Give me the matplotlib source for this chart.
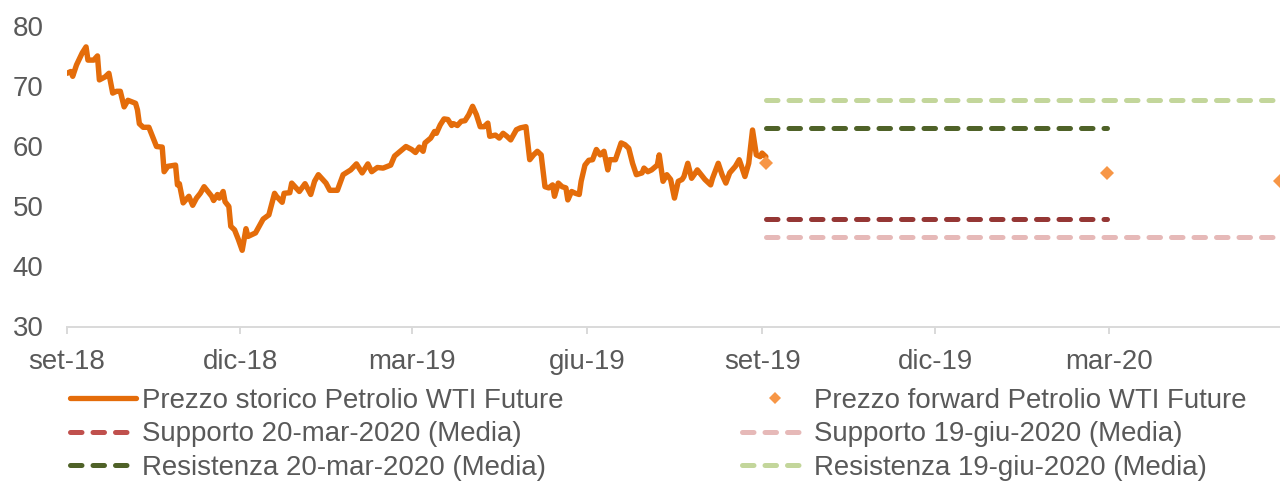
import matplotlib
matplotlib.use("Agg")
import matplotlib.pyplot as plt
from matplotlib.lines import Line2D
import pandas as pd

plt.rcParams['font.family'] = ['Liberation Sans', 'DejaVu Sans']

# ---------------- data ----------------
hist_dates = [
    "2018-09-21", "2018-09-23", "2018-09-24", "2018-09-26", "2018-09-29", "2018-10-01",
    "2018-10-02", "2018-10-05", "2018-10-07", "2018-10-08", "2018-10-11", "2018-10-13",
    "2018-10-15", "2018-10-17", "2018-10-19", "2018-10-21", "2018-10-23", "2018-10-27",
    "2018-10-28", "2018-10-29", "2018-10-31", "2018-11-03", "2018-11-06", "2018-11-07",
    "2018-11-10", "2018-11-11", "2018-11-13", "2018-11-17", "2018-11-18", "2018-11-19",
    "2018-11-21", "2018-11-24", "2018-11-26", "2018-11-28", "2018-11-30", "2018-12-02",
    "2018-12-04", "2018-12-06", "2018-12-07", "2018-12-09", "2018-12-10", "2018-12-12",
    "2018-12-13", "2018-12-15", "2018-12-16", "2018-12-18", "2018-12-20", "2018-12-22",
    "2018-12-24", "2018-12-25", "2018-12-29", "2019-01-02", "2019-01-05", "2019-01-08",
    "2019-01-09", "2019-01-12", "2019-01-13", "2019-01-16", "2019-01-17", "2019-01-21",
    "2019-01-24", "2019-01-27", "2019-01-29", "2019-01-31", "2019-02-04", "2019-02-06",
    "2019-02-10", "2019-02-13", "2019-02-17", "2019-02-20", "2019-02-23", "2019-02-26",
    "2019-02-28", "2019-03-03", "2019-03-06", "2019-03-10", "2019-03-12", "2019-03-15",
    "2019-03-18", "2019-03-21", "2019-03-23", "2019-03-25", "2019-03-27", "2019-03-28",
    "2019-03-31", "2019-04-02", "2019-04-03", "2019-04-05", "2019-04-07", "2019-04-09",
    "2019-04-11", "2019-04-12", "2019-04-14", "2019-04-16", "2019-04-18", "2019-04-20",
    "2019-04-22", "2019-04-24", "2019-04-26", "2019-04-28", "2019-04-30", "2019-05-01",
    "2019-05-04", "2019-05-06", "2019-05-08", "2019-05-10", "2019-05-12", "2019-05-15",
    "2019-05-17", "2019-05-20", "2019-05-22", "2019-05-24", "2019-05-26", "2019-05-28",
    "2019-05-30", "2019-06-01", "2019-06-03", "2019-06-04", "2019-06-06", "2019-06-08",
    "2019-06-10", "2019-06-11", "2019-06-13", "2019-06-15", "2019-06-17", "2019-06-18",
    "2019-06-20", "2019-06-22", "2019-06-24", "2019-06-26", "2019-06-28", "2019-06-30",
    "2019-07-02", "2019-07-03", "2019-07-06", "2019-07-09", "2019-07-11", "2019-07-13",
    "2019-07-15", "2019-07-17", "2019-07-20", "2019-07-21", "2019-07-23", "2019-07-25",
    "2019-07-28", "2019-07-29", "2019-07-31", "2019-08-02", "2019-08-04", "2019-08-06",
    "2019-08-08", "2019-08-10", "2019-08-11", "2019-08-13", "2019-08-15", "2019-08-17",
    "2019-08-18", "2019-08-20", "2019-08-22", "2019-08-25", "2019-08-26", "2019-08-29",
    "2019-08-31", "2019-09-02", "2019-09-04", "2019-09-07", "2019-09-09", "2019-09-10",
    "2019-09-12", "2019-09-14", "2019-09-16", "2019-09-18", "2019-09-20", "2019-09-21",
    "2019-09-23",
]
hist_values = [
    72.2, 72.5, 71.7, 73.6, 75.6, 76.6,
    74.4, 74.4, 75.1, 71.1, 71.6, 72.2,
    68.9, 69.2, 69.2, 66.6, 67.7, 67.2,
    66.1, 63.8, 63.2, 63.2, 60.8, 60.0,
    59.9, 55.8, 56.7, 56.9, 53.6, 53.8,
    50.6, 51.7, 50.2, 51.4, 52.2, 53.3,
    52.5, 51.7, 51.0, 52.0, 51.4, 52.5,
    50.8, 50.0, 46.7, 46.1, 44.5, 42.7,
    46.3, 45.0, 45.6, 47.9, 48.6, 52.2,
    51.7, 50.7, 52.2, 52.3, 53.9, 52.5,
    53.8, 52.0, 54.2, 55.3, 53.9, 52.7,
    52.7, 55.3, 56.1, 57.1, 55.6, 57.1,
    55.8, 56.5, 56.4, 56.9, 58.4, 59.2,
    60.0, 59.5, 59.0, 59.9, 59.2, 60.6,
    61.4, 62.5, 62.2, 63.6, 64.6, 64.5,
    63.5, 63.8, 63.5, 64.2, 64.3, 65.3,
    66.7, 65.3, 63.3, 63.3, 63.9, 61.7,
    61.9, 61.4, 62.2, 61.7, 61.1, 62.8,
    63.1, 63.3, 57.8, 58.6, 59.2, 58.6,
    53.3, 53.1, 53.6, 51.7, 53.9, 53.3,
    53.1, 51.1, 52.5, 52.2, 52.0, 54.2,
    56.9, 57.7, 57.8, 59.5, 58.6, 59.2,
    56.1, 57.8, 57.8, 60.6, 60.3, 59.7,
    57.2, 55.3, 55.6, 56.4, 55.8, 56.1,
    56.9, 58.6, 54.2, 55.3, 54.5, 51.4,
    54.2, 54.5, 55.0, 57.2, 54.7, 55.6,
    56.1, 55.3, 54.5, 53.6, 54.7, 57.2,
    55.3, 53.9, 55.6, 56.7, 57.8, 56.9,
    55.0, 57.2, 62.75, 58.6, 58.3, 58.9,
    58.3,
]

fwd_dates = ["2019-09-23", "2020-03-20", "2020-06-19"]
fwd_values = [57.2, 55.6, 54.3]

level_start = "2019-09-23"
mar_end = "2020-03-20"
jun_end = "2020-06-19"
supporto_mar = 47.9
resistenza_mar = 63.1
supporto_giu = 45.0
resistenza_giu = 67.75

tick_dates = ["2018-09-21", "2018-12-21", "2019-03-21", "2019-06-21",
              "2019-09-21", "2019-12-21", "2020-03-21"]
tick_labels = ["set-18", "dic-18", "mar-19", "giu-19", "set-19", "dic-19", "mar-20"]
y_ticks = [30, 40, 50, 60, 70, 80]

labels = ["Prezzo storico Petrolio WTI Future",
          "Supporto 20-mar-2020 (Media)",
          "Resistenza 20-mar-2020 (Media)",
          "Prezzo forward Petrolio WTI Future",
          "Supporto 19-giu-2020 (Media)",
          "Resistenza 19-giu-2020 (Media)"]

# ---------------- style ----------------
C_HIST = "#E46C0A"
C_FWD = "#F79646"
C_SUP_MAR = "#953735"
C_SUP_MAR_LEG = "#C0504D"
C_RES_MAR = "#4F6228"
C_SUP_GIU = "#E6B9B8"
C_RES_GIU = "#C3D69B"
TXT = "#595959"
AXC = "#D9D9D9"
FS = 19.9
LW = 3.6
DASH = (2.3, 2.2)
MS = 7.3

fig = plt.figure(figsize=(12.8, 4.82), dpi=100)
W, H = 1280, 482
x0, x1 = 67, 1280
y30, y80 = 326.5, 26.5
ax = fig.add_axes([x0 / W, (H - y30) / H, (x1 - x0) / W, (y30 - y80) / H])

hd = pd.to_datetime(hist_dates)
ax.plot(hd, hist_values, color=C_HIST, lw=3.9, solid_joinstyle='round',
        solid_capstyle='round', zorder=5)


def hline(end, val, color):
    ax.plot(pd.to_datetime([level_start, end]), [val, val], color=color, lw=LW,
            dashes=DASH, dash_capstyle='round', zorder=3)


hline(jun_end, resistenza_giu, C_RES_GIU)
hline(mar_end, resistenza_mar, C_RES_MAR)
hline(mar_end, supporto_mar, C_SUP_MAR)
hline(jun_end, supporto_giu, C_SUP_GIU)

ax.plot(pd.to_datetime(fwd_dates), fwd_values, linestyle='none', marker='D',
        markersize=MS, color=C_FWD, markeredgewidth=0, zorder=6)

ax.set_xlim(pd.Timestamp("2018-09-21"), pd.Timestamp("2020-06-19"))
ax.set_ylim(30, 80)
ax.set_xticks(pd.to_datetime(tick_dates))
ax.set_xticklabels(tick_labels)
ax.set_yticks(y_ticks)
ax.set_yticklabels([str(v) for v in y_ticks])

for s in ["top", "right", "left"]:
    ax.spines[s].set_visible(False)
ax.spines["bottom"].set_color(AXC)
ax.spines["bottom"].set_linewidth(1.4)
ax.tick_params(axis='x', length=5, width=1.4, color=AXC, pad=11,
               labelsize=FS, labelcolor=TXT)
ax.tick_params(axis='y', length=0, pad=17, labelsize=FS, labelcolor=TXT)
ax.patch.set_alpha(0)

# ---------------- legend ----------------
def dash_handle(color):
    return Line2D([], [], color=color, lw=LW, dashes=DASH, dash_capstyle='round')


h_left = [Line2D([], [], color=C_HIST, lw=3.8, solid_capstyle='round'),
          dash_handle(C_SUP_MAR_LEG), dash_handle(C_RES_MAR)]
h_right = [Line2D([], [], linestyle='none', marker='D', markersize=MS * 0.9,
                  color=C_FWD, markeredgewidth=0),
           dash_handle(C_SUP_GIU), dash_handle(C_RES_GIU)]

common = dict(loc='upper left', frameon=False, fontsize=FS, labelcolor=TXT,
              handlelength=2.4, handletextpad=0.22, labelspacing=0.27,
              borderpad=0, borderaxespad=0, numpoints=1)
leg1 = fig.legend(h_left, labels[:3], bbox_to_anchor=(70 / W, 1 - 388 / H), **common)
leg2 = fig.legend(h_right, labels[3:], bbox_to_anchor=(742 / W, 1 - 388 / H), **common)

fig.savefig("out.png", dpi=100)
